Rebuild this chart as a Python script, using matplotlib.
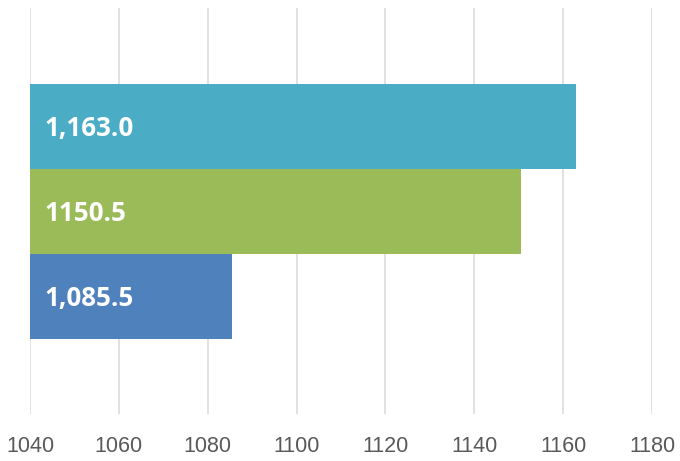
import matplotlib
matplotlib.use("Agg")
import matplotlib.pyplot as plt
from matplotlib import font_manager

# Data
categories = ["C", "B", "A"]          # bottom to top
values = [1085.5, 1150.5, 1163.0]
value_labels = ["1,085.5", "1150.5", "1,163.0"]
colors = ["#4F81BD", "#9BBB59", "#4BACC6"]
x_ticks = [1040, 1060, 1080, 1100, 1120, 1140, 1160, 1180]
x_min, x_max = 1040, 1180

available = {f.name for f in font_manager.fontManager.ttflist}
tick_font = "Liberation Sans Narrow" if "Liberation Sans Narrow" in available else "Liberation Sans"
label_font = "Open Sans" if "Open Sans" in available else "DejaVu Sans"

fig = plt.figure(figsize=(6.8, 4.61), dpi=100)
ax = fig.add_axes([30 / 680, 1 - 414 / 461, 622 / 680, 406 / 461])

ypos = list(range(len(categories)))
widths = [v - x_min for v in values]
ax.barh(ypos, widths, left=x_min, height=1.0, color=colors, zorder=2)

for y, v, lab in zip(ypos, values, value_labels):
    ax.annotate(lab, xy=(x_min, y), xytext=(10.2, -1.6), textcoords="offset points",
                va="center", ha="left", color="white", fontsize=18.7,
                fontweight="bold", family=label_font, zorder=3)

ax.set_xlim(x_min, x_max)
ax.set_ylim(-1.39, 3.40)
ax.set_xticks(x_ticks)
ax.set_xticklabels([str(t) for t in x_ticks], family=tick_font, fontsize=15.5, color="#595959")
ax.set_yticks([])
ax.tick_params(axis="x", length=0, pad=16)
ax.grid(axis="x", color="#D9D9D9", linewidth=1.1, zorder=0)
for s in ax.spines.values():
    s.set_visible(False)

fig.savefig("out.png", dpi=100)
